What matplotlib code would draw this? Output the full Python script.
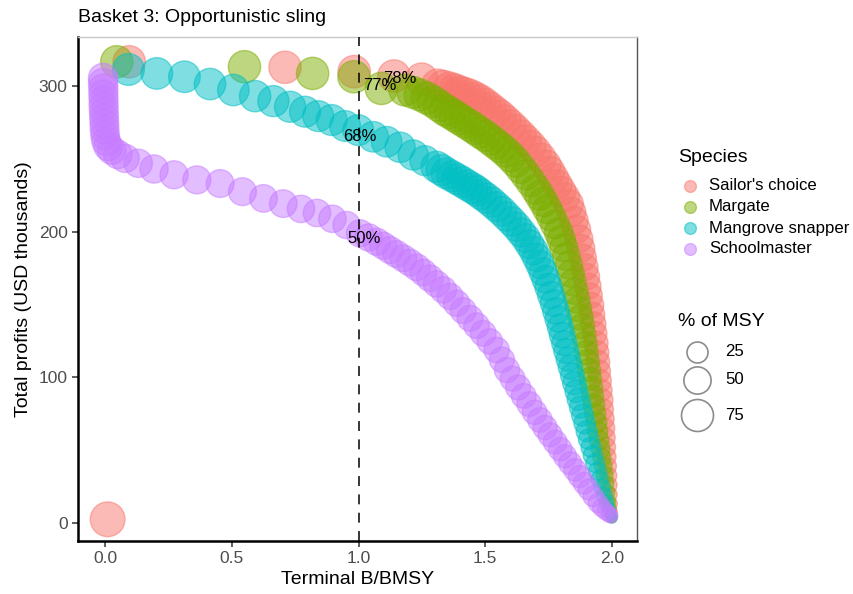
import numpy as np
import matplotlib.pyplot as plt
from matplotlib.lines import Line2D

plt.rcParams['font.family'] = ['Liberation Sans', 'DejaVu Sans']

# ---------------- data ---------------- #
species = ["Sailor's choice", "Margate", "Mangrove snapper", "Schoolmaster"]
colors = ["#F8766D", "#7CAE00", "#00BFC4", "#C77CFF"]

# Sailor's choice
sc_x = [0.01, 0.095, 0.71, 0.983, 1.14, 1.249,
        1.312, 1.335, 1.36, 1.38, 1.40, 1.42, 1.44, 1.46, 1.48, 1.50, 1.52, 1.54, 1.56, 1.58,
        1.60, 1.62, 1.64, 1.66, 1.68, 1.70, 1.72, 1.74, 1.755, 1.77, 1.785, 1.80, 1.815, 1.83,
        1.84, 1.85, 1.86, 1.87, 1.878, 1.885, 1.892, 1.899, 1.905, 1.911, 1.917, 1.922, 1.927,
        1.932, 1.937, 1.941, 1.945, 1.949, 1.953, 1.957, 1.961, 1.964, 1.968, 1.971, 1.974,
        1.977, 1.980, 1.983, 1.986, 1.989, 1.992, 1.995, 1.997, 2.0]
sc_y = [2.5, 316.6, 312.8, 309.8, 306.8, 304.7,
        300.6, 299.8, 298.6, 297.4, 296.0, 294.9, 293.6, 291.9, 290.0, 287.6, 284.8, 282.1, 279.4, 276.3,
        273.0, 269.7, 266.2, 262.6, 259.0, 255.0, 250.5, 245.7, 241.4, 236.8, 232.3, 227.8, 223.5, 219.0,
        213.5, 207.5, 201.5, 195.0, 188.5, 182.0, 175.5, 169.0, 162.5, 156.0, 149.5, 143.0, 136.5,
        130.0, 123.5, 117.0, 110.5, 104.0, 97.5, 91.0, 84.5, 78.0, 71.5, 65.0, 58.5,
        52.0, 45.5, 39.0, 32.5, 26.0, 19.5, 13.0, 8.0, 4.0]
sc_pct = [92, 77, 77, 78, 78, 77,
          75, 75, 75, 75, 74, 74, 74, 74, 73, 73, 73, 72, 72, 71,
          71, 70, 70, 69, 68, 67, 66, 65, 64, 63, 62, 61, 60, 59,
          58, 56, 55, 53, 52, 50, 49, 47, 46, 44, 43, 41, 40,
          38, 37, 35, 34, 32, 31, 29, 28, 26, 24, 23, 21,
          19, 17, 15, 13, 11, 8, 6, 4, 2]

# Margate
mg_x = [0.046, 0.55, 0.819, 0.982, 1.09,
        1.183, 1.215, 1.243, 1.27, 1.295, 1.318, 1.341, 1.36, 1.38, 1.40, 1.42, 1.44, 1.46, 1.48,
        1.50, 1.52, 1.54, 1.56, 1.58, 1.60, 1.62, 1.64, 1.66, 1.68, 1.70, 1.715, 1.73, 1.745,
        1.76, 1.775, 1.79, 1.80, 1.81, 1.82, 1.83, 1.838, 1.846, 1.854, 1.862, 1.869, 1.876,
        1.882, 1.888, 1.894, 1.899, 1.904, 1.909, 1.914, 1.919, 1.924, 1.929, 1.934, 1.939,
        1.944, 1.949, 1.955, 1.960, 1.966, 1.971, 1.976, 1.982, 1.987, 1.992, 1.996, 2.0]
mg_y = [316.6, 313.2, 308.6, 306.3, 298.3,
        297.2, 295.6, 293.8, 291.6, 289.2, 286.4, 283.5, 281.6, 279.4, 277.2, 275.0, 272.8, 270.5, 268.0,
        265.8, 263.2, 260.5, 257.8, 254.8, 251.5, 247.8, 243.5, 239.0, 234.2, 229.0, 224.8, 220.4, 215.5,
        210.5, 205.0, 199.5, 194.5, 189.0, 183.0, 177.0, 171.0, 165.0, 159.0, 153.0, 147.0, 141.0,
        135.0, 129.0, 123.0, 117.0, 111.0, 105.0, 99.0, 93.0, 87.0, 81.0, 75.0, 69.0,
        63.0, 57.0, 51.0, 45.0, 39.0, 33.0, 27.0, 21.0, 15.0, 10.0, 6.0, 3.5]
mg_pct = [77, 77, 77, 77, 77,
          75, 75, 75, 75, 74, 74, 74, 73, 73, 73, 72, 72, 72, 71,
          71, 70, 70, 69, 68, 68, 67, 66, 65, 64, 63, 62, 61, 60,
          59, 58, 57, 55, 54, 52, 51, 49, 48, 46, 45, 43, 42,
          40, 39, 37, 36, 34, 33, 31, 30, 28, 27, 25, 24,
          22, 20, 18, 16, 15, 13, 11, 9, 7, 5, 3, 2]

# Mangrove snapper
ms_x = [0.092, 0.204, 0.313, 0.414, 0.506, 0.592, 0.664, 0.73, 0.789, 0.841, 0.894, 0.947, 0.999,
        1.058, 1.111, 1.164, 1.216, 1.262,
        1.308, 1.328, 1.348, 1.37, 1.39, 1.41, 1.43, 1.45, 1.466, 1.485, 1.505, 1.525, 1.545,
        1.565, 1.585, 1.605, 1.624, 1.642, 1.66, 1.675, 1.69, 1.703, 1.716, 1.728, 1.739, 1.75,
        1.76, 1.77, 1.779, 1.788, 1.796, 1.804, 1.812, 1.82, 1.828, 1.836, 1.844, 1.852, 1.86,
        1.868, 1.876, 1.884, 1.892, 1.9, 1.908, 1.917, 1.925, 1.934, 1.943, 1.952, 1.961, 1.97,
        1.979, 1.988, 1.996, 2.0]
ms_y = [311.3, 308.6, 306.3, 301.3, 297.2, 293, 289.6, 285.7, 282.3, 279.3, 276.6, 272.5, 269.7,
        265.1, 261.7, 257.9, 252.6, 248.7,
        244.5, 242.3, 240.0, 238.0, 236.0, 234.0, 231.8, 229.8, 228.0, 225.5, 223.0, 220.2, 217.1,
        214.0, 210.5, 207.0, 203.4, 199.5, 195.5, 191.3, 187.0, 182.3, 177.5, 172.5, 167.3, 162.0,
        156.5, 151.0, 145.5, 140.0, 134.5, 129.0, 123.5, 118.0, 112.5, 107.0, 101.5, 96.0, 90.5,
        85.0, 79.5, 74.0, 68.5, 63.0, 57.5, 52.0, 46.5, 41.0, 35.5, 30.0, 24.5, 19.0,
        14.0, 9.5, 5.5, 3.5]
ms_pct = [74, 73, 73, 72, 72, 71, 70, 70, 69, 69, 69, 68, 68,
          67, 67, 66, 65, 64,
          70, 70, 70, 69, 69, 69, 68, 68, 67, 67, 66, 66, 65,
          64, 63, 62, 61, 60, 59, 58, 57, 56, 55, 54, 52, 51,
          50, 48, 47, 46, 44, 43, 41, 40, 38, 37, 35, 34, 32,
          31, 29, 28, 26, 25, 23, 21, 20, 18, 16, 14, 12, 10,
          8, 5, 3, 2]

# Schoolmaster
sm_x = [-0.008, -0.008, -0.007, -0.007, -0.006, -0.006, -0.005, -0.004, -0.003, -0.002, 0.0,
        0.004, 0.012, 0.026, 0.05, 0.079, 0.131, 0.193, 0.272, 0.362, 0.454, 0.542, 0.625,
        0.703, 0.773, 0.836, 0.897, 0.953,
        1.006, 1.04, 1.072, 1.098, 1.124, 1.15, 1.177, 1.203, 1.23, 1.256, 1.282, 1.308, 1.335,
        1.361, 1.387, 1.413, 1.44, 1.466, 1.492, 1.518, 1.545, 1.566, 1.586, 1.608, 1.63, 1.652,
        1.674, 1.695, 1.716, 1.736, 1.756, 1.776, 1.796, 1.815, 1.835, 1.854, 1.872, 1.89,
        1.908, 1.926, 1.945, 1.96, 1.975, 1.988, 1.995]
sm_y = [305.5, 302, 298, 294, 290, 286, 282, 278, 274, 270, 266,
        262, 258.5, 256, 253, 250.3, 246.9, 243, 239, 235.5, 233, 227.4, 222.8,
        219.2, 215.6, 212.8, 208.8, 204.5,
        198.8, 196.0, 193.0, 190.3, 187.4, 184.6, 181.7, 178.7, 175.5, 171.9, 168.0, 164.1, 160.0,
        155.5, 150.8, 145.8, 140.5, 135.4, 130.2, 124.6, 118.7, 112.0, 105.0, 99.0, 93.0, 87.2,
        81.6, 76.0, 70.7, 65.5, 60.5, 55.5, 50.6, 45.8, 41.0, 36.4, 31.8, 27.3,
        23.0, 18.2, 13.7, 10.5, 8.0, 6.0, 5.0]
sm_pct = [60, 60, 60, 59, 59, 59, 58, 58, 58, 57, 57,
          57, 56, 56, 56, 55, 55, 55, 54, 54, 53, 53, 52,
          52, 51, 51, 51, 50,
          50, 50, 50, 49, 49, 49, 48, 48, 48, 47, 47, 46, 46,
          45, 45, 44, 44, 43, 43, 42, 42, 41, 41, 40, 40, 39,
          39, 38, 38, 37, 36, 35, 34, 33, 32, 30, 29, 27,
          25, 23, 20, 17, 14, 11, 8]

# labels at B/BMSY = 1
lab_text = ["78%", "77%", "68%", "50%"]
lab_x = [1.164, 1.085, 1.006, 1.022]
lab_y = [305.4, 300.6, 265, 195]

size_breaks = [25, 50, 75]

# ---------------- plotting ---------------- #
DPI = 100
W, H = 854, 594


def pct_to_s(v):
    # diameter in pixels, then area in points^2
    d = 6 + 3.0 * np.sqrt(np.asarray(v, dtype=float))
    return (d * 72.0 / DPI) ** 2


def fx(px):
    return px / W


def fy(py):
    return 1 - py / H


fig = plt.figure(figsize=(W / DPI, H / DPI), dpi=DPI)
ax = fig.add_axes([fx(78), fy(541), (637 - 78) / W, (541 - 37) / H])

series = [(sc_x, sc_y, sc_pct), (mg_x, mg_y, mg_pct), (ms_x, ms_y, ms_pct), (sm_x, sm_y, sm_pct)]
for (xs, ys, ps), col in zip(series, colors):
    ax.scatter(xs, ys, s=pct_to_s(ps), color=col, alpha=0.5, edgecolors=col, linewidths=1.0, zorder=2)

ax.axvline(1.0, color='black', linestyle=(0, (6.5, 5.5)), linewidth=1.1, zorder=3)

for t, x, y in zip(lab_text, lab_x, lab_y):
    ax.text(x, y, t, ha='center', va='center', fontsize=12, color='black', zorder=4)

ax.set_xlim(-0.107, 2.099)
ax.set_ylim(-12.4, 333.6)
ax.set_xticks([0.0, 0.5, 1.0, 1.5, 2.0])
ax.set_xticklabels(['0.0', '0.5', '1.0', '1.5', '2.0'])
ax.set_yticks([0, 100, 200, 300])
ax.tick_params(axis='both', colors='#333333', labelcolor='#4D4D4D', labelsize=12.5, length=4, width=1.1)

for side in ['left', 'bottom']:
    ax.spines[side].set_linewidth(1.8)
    ax.spines[side].set_color('black')
ax.spines['top'].set_color('#C8C8C8')
ax.spines['top'].set_linewidth(1.0)
ax.spines['right'].set_color('#555555')
ax.spines['right'].set_linewidth(1.0)

ax.set_xlabel('Terminal B/BMSY', fontsize=14, labelpad=3)
ax.set_ylabel('Total profits (USD thousands)', fontsize=14, labelpad=5)
fig.text(fx(78), fy(17), 'Basket 3: Opportunistic sling', fontsize=14, ha='left', va='center')

# species legend (drawn by hand to match the ggplot spacing)
fig.text(fx(678), fy(158), 'Species', fontsize=14, ha='left', va='center')
for i, (name, col) in enumerate(zip(species, colors)):
    yy = 186 + 21 * i
    fig.add_artist(Line2D([fx(690)], [fy(yy)], transform=fig.transFigure, marker='o', linestyle='none',
                          markersize=8.5, color=col, alpha=0.5, markeredgecolor=col))
    fig.text(fx(709), fy(yy), name, fontsize=12.1, ha='left', va='center')

# size legend
fig.text(fx(678), fy(322), '% of MSY', fontsize=14, ha='left', va='center')
for v, yy in zip(size_breaks, [352, 380, 415]):
    fig.add_artist(Line2D([fx(697)], [fy(yy)], transform=fig.transFigure, marker='o', linestyle='none',
                          markersize=np.sqrt(pct_to_s(v)), markerfacecolor='none',
                          markeredgecolor='#8C8C8C', markeredgewidth=1.2))
    fig.text(fx(725), fy(yy), str(v), fontsize=12.1, ha='left', va='center')

fig.savefig('out.png', dpi=DPI)
